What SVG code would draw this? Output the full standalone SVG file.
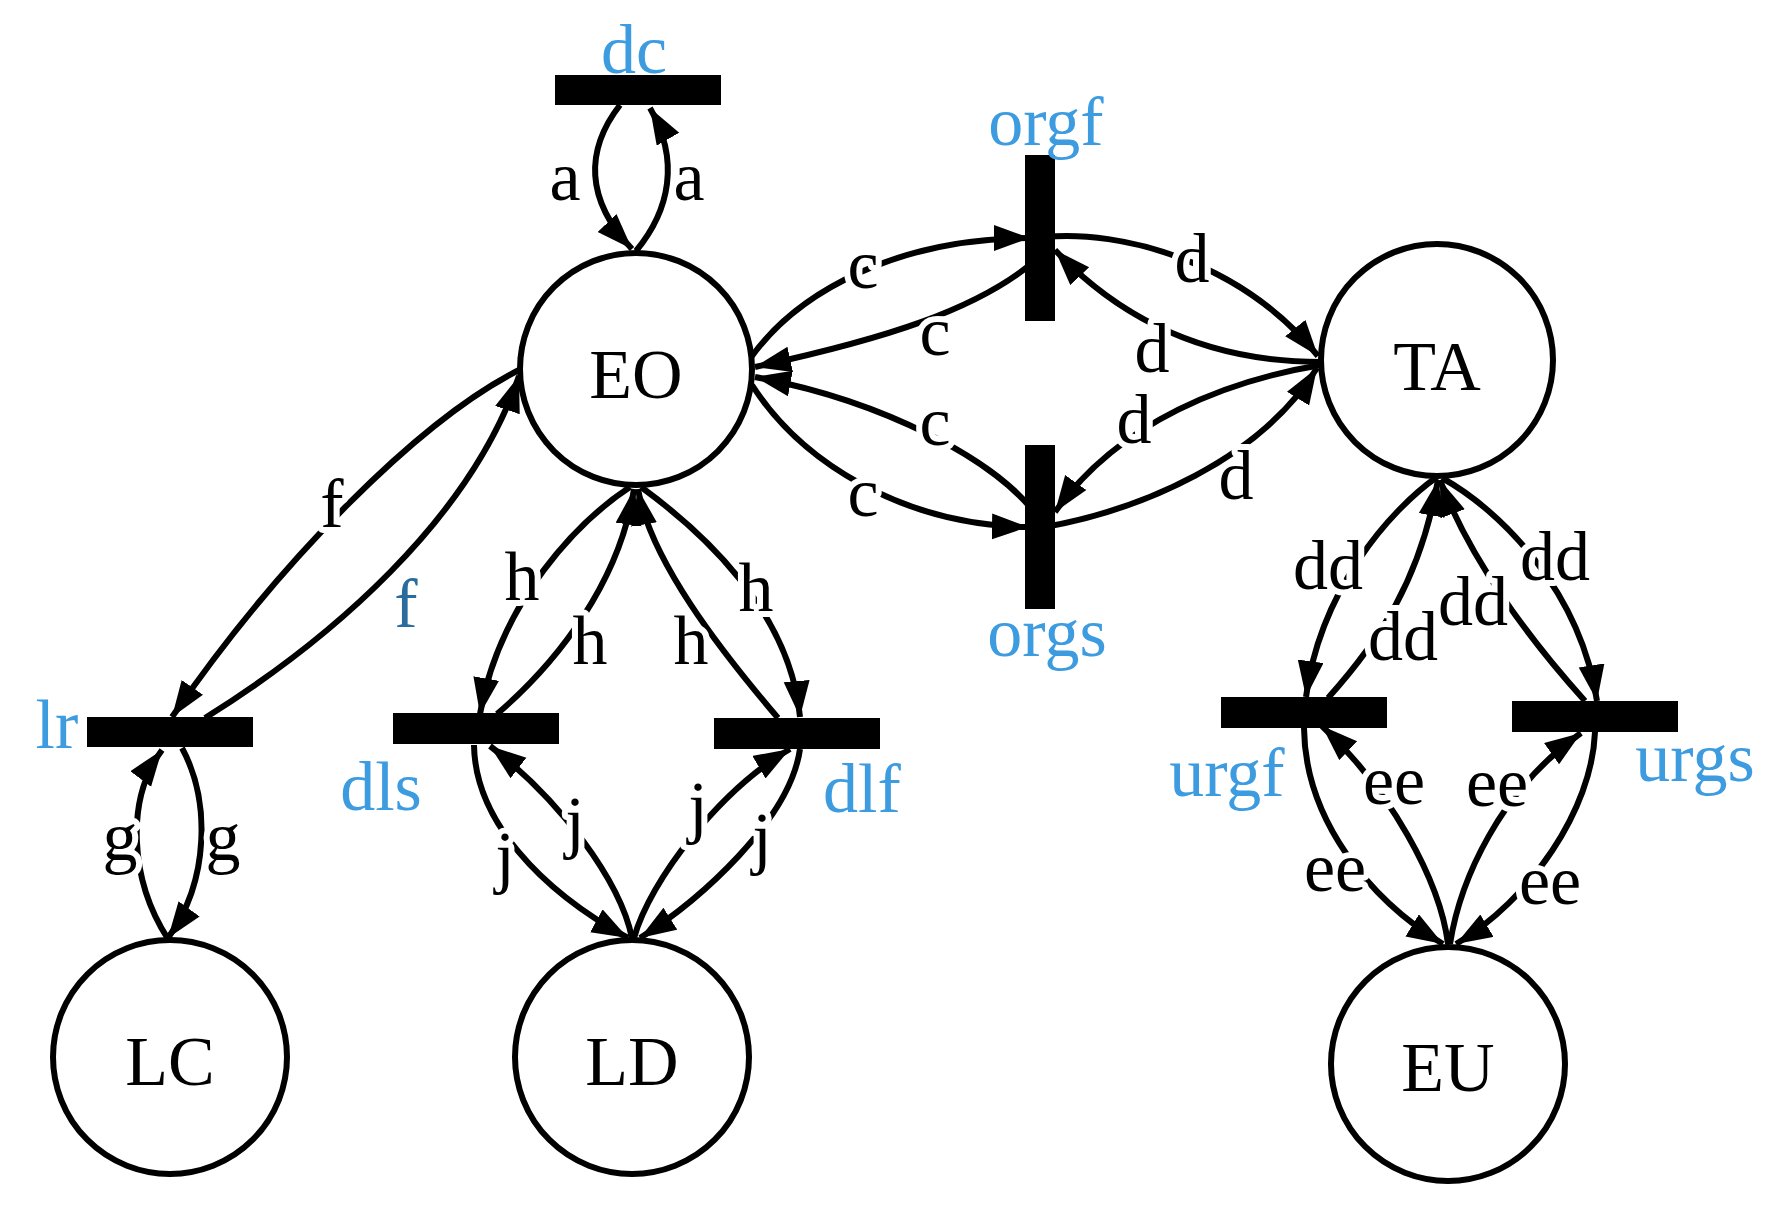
<svg xmlns="http://www.w3.org/2000/svg" width="1780" height="1212" viewBox="0 0 1780 1212">
<style>
.e{fill:none;stroke:#000;stroke-width:6;marker-end:url(#ah)}
.n{fill:#fff;stroke:#000;stroke-width:6}
.b{fill:#000}
.t{font-family:"Liberation Serif","Times New Roman",serif;font-size:70px;text-anchor:middle;fill:#000}
.el{font-family:"Liberation Serif","Times New Roman",serif;font-size:70px;text-anchor:middle;fill:#000;stroke:#fff;stroke-width:12;paint-order:stroke;stroke-linejoin:round}
.bl{font-family:"Liberation Serif","Times New Roman",serif;font-size:70px;text-anchor:middle;fill:#3d9be0}
</style>
<defs>
<marker id="ah" markerUnits="userSpaceOnUse" markerWidth="40" markerHeight="30" refX="36" refY="13" orient="auto" viewBox="0 0 40 30">
<path d="M0,0 L36,13 L0,26 z" fill="#000"/>
</marker>
</defs>
<rect width="1780" height="1212" fill="#fff"/>
<g id="connectors">
<path class="e" d="M636,251 C 670,210 680,160 650,108"/>
<path class="e" d="M620,105 C 585,150 585,200 632,249"/>
<path class="e" d="M752,356 C 800,290 900,238 1030,238"/>
<path class="e" d="M1038,258 C 980,310 880,340 755,367"/>
<path class="e" d="M1040,520 C 1000,460 880,400 755,377"/>
<path class="e" d="M752,385 C 800,460 900,525 1028,527"/>
<path class="e" d="M1045,237 C 1120,230 1240,260 1318,356"/>
<path class="e" d="M1321,362 C 1240,362 1140,340 1055,250"/>
<path class="e" d="M1321,365 C 1230,380 1120,420 1055,512"/>
<path class="e" d="M1045,527 C 1140,510 1260,460 1317,368"/>
<path class="e" d="M519,370 C 420,420 280,560 172,717"/>
<path class="e" d="M205,718 C 330,640 470,520 519,376"/>
<path class="e" d="M182,748 C 210,800 210,880 168,938"/>
<path class="e" d="M168,939 C 130,880 125,800 162,750"/>
<path class="e" d="M630,487 C 580,520 500,600 480,714"/>
<path class="e" d="M497,714 C 560,660 620,580 634,489"/>
<path class="e" d="M778,718 C 720,650 650,560 638,489"/>
<path class="e" d="M641,487 C 700,530 790,610 800,717"/>
<path class="e" d="M474,745 C 475,820 540,890 628,938"/>
<path class="e" d="M632,938 C 620,880 560,800 490,746"/>
<path class="e" d="M634,938 C 650,880 720,790 790,749"/>
<path class="e" d="M800,749 C 790,820 700,900 640,938"/>
<path class="e" d="M1437,477 C 1390,510 1320,590 1306,697"/>
<path class="e" d="M1328,698 C 1380,640 1420,580 1438,480"/>
<path class="e" d="M1585,701 C 1530,640 1470,560 1440,480"/>
<path class="e" d="M1442,478 C 1500,510 1580,590 1597,701"/>
<path class="e" d="M1304,728 C 1305,820 1370,900 1443,944"/>
<path class="e" d="M1448,944 C 1440,880 1390,790 1322,726"/>
<path class="e" d="M1450,944 C 1460,880 1500,790 1581,733"/>
<path class="e" d="M1595,732 C 1592,810 1530,900 1456,944"/>
<text class="el" x="565" y="200">a</text>
<text class="el" x="689" y="200">a</text>
<text class="el" x="863" y="288">c</text>
<text class="el" x="935" y="355">c</text>
<text class="el" x="935" y="445">c</text>
<text class="el" x="863" y="516">c</text>
<text class="el" x="1192" y="282">d</text>
<text class="el" x="1152" y="372">d</text>
<text class="el" x="1134" y="443">d</text>
<text class="el" x="1236" y="499">d</text>
<text class="el" x="332" y="527">f</text>
<text class="el" x="406" y="627" style="fill:#2b6c9e">f</text>
<text class="el" x="120" y="860">g</text>
<text class="el" x="223" y="860">g</text>
<text class="el" x="522" y="600">h</text>
<text class="el" x="756" y="611">h</text>
<text class="el" x="590" y="664">h</text>
<text class="el" x="691" y="664">h</text>
<text class="el" x="505" y="880">j</text>
<text class="el" x="575" y="845">j</text>
<text class="el" x="698" y="830">j</text>
<text class="el" x="762" y="861">j</text>
<text class="el" x="1328" y="589">dd</text>
<text class="el" x="1555" y="580">dd</text>
<text class="el" x="1473" y="625">dd</text>
<text class="el" x="1403" y="660">dd</text>
<text class="el" x="1394" y="804">ee</text>
<text class="el" x="1497" y="806">ee</text>
<text class="el" x="1335" y="891">ee</text>
<text class="el" x="1550" y="904">ee</text>
</g>
<g id="EO"><circle class="n" cx="636" cy="369" r="116"/><text class="t" x="636" y="398">EO</text></g>
<g id="TA"><circle class="n" cx="1437" cy="360" r="116"/><text class="t" x="1437" y="390">TA</text></g>
<g id="LC"><circle class="n" cx="170" cy="1057" r="117"/><text class="t" x="170" y="1085">LC</text></g>
<g id="LD"><circle class="n" cx="632" cy="1057" r="117"/><text class="t" x="632" y="1085">LD</text></g>
<g id="EU"><circle class="n" cx="1448" cy="1064" r="117"/><text class="t" x="1448" y="1091">EU</text></g>
<g id="dc"><rect class="b" x="555" y="75" width="166" height="30"/><text class="bl" x="634" y="73">dc</text></g>
<g id="orgf"><rect class="b" x="1025" y="155" width="30" height="166"/><text class="bl" x="1046" y="145">orgf</text></g>
<g id="orgs"><rect class="b" x="1025" y="445" width="30" height="164"/><text class="bl" x="1047" y="656">orgs</text></g>
<g id="lr"><rect class="b" x="87" y="717" width="166" height="30"/><text class="bl" x="57" y="748">lr</text></g>
<g id="dls"><rect class="b" x="393" y="713" width="166" height="31"/><text class="bl" x="381" y="810">dls</text></g>
<g id="dlf"><rect class="b" x="714" y="718" width="166" height="31"/><text class="bl" x="862" y="812">dlf</text></g>
<g id="urgf"><rect class="b" x="1221" y="697" width="166" height="31"/><text class="bl" x="1227" y="796">urgf</text></g>
<g id="urgs"><rect class="b" x="1512" y="701" width="166" height="31"/><text class="bl" x="1695" y="781">urgs</text></g>
</svg>
